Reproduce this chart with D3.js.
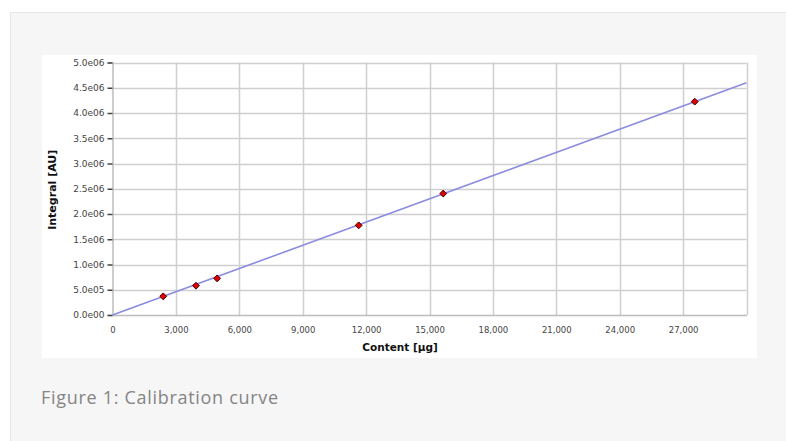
<!DOCTYPE html>
<html>
<head>
<meta charset="utf-8">
<script src="https://cdn.jsdelivr.net/npm/d3@7"></script>
<style>
  html, body { margin: 0; padding: 0; background: #fff; }
  svg { display: block; }
</style>
</head>
<body>
<div id="chart"></div>
<script>
(function() {
    const width = 786;
    const height = 441;

    // Calibration points
    const contentVals = [2400, 3950, 4950, 11650, 15650, 27550];
    const integralVals = [0.37e6, 0.58e6, 0.725e6, 1.775e6, 2.405e6, 4.225e6];
    // fitted line end points
    const fitX = [0, 30000];
    const fitY = [0, 4.6e6];

    const xTicks = [0, 3000, 6000, 9000, 12000, 15000, 18000, 21000, 24000, 27000];
    const yTicks = [0, 5e5, 1e6, 1.5e6, 2e6, 2.5e6, 3e6, 3.5e6, 4e6, 4.5e6, 5e6];
    const xGrid = [3000, 6000, 9000, 12000, 15000, 18000, 21000, 24000, 27000, 30000];

    const plot = { left: 112.5, right: 746.5, top: 62.5, bottom: 315 };

    const svg = d3.select("#chart").append("svg")
        .attr("width", width).attr("height", height);

    // outer grey panel
    svg.append("rect")
        .attr("x", 10.5).attr("y", 12.5)
        .attr("width", width).attr("height", height)
        .attr("fill", "#f6f6f6").attr("stroke", "#e6e6e6");

    // white chart box
    svg.append("rect")
        .attr("x", 42).attr("y", 55)
        .attr("width", 715).attr("height", 303)
        .attr("fill", "#fff");

    const x = d3.scaleLinear().domain([0, 30000]).range([plot.left, plot.right]);
    const y = d3.scaleLinear().domain([0, 5e6]).range([plot.bottom, plot.top]);

    const g = svg.append("g");

    // grid
    g.selectAll(".hgrid")
        .data(yTicks.slice(1))
        .join("line")
        .attr("x1", plot.left).attr("x2", plot.right)
        .attr("y1", d => Math.round(y(d)) + 0.5).attr("y2", d => Math.round(y(d)) + 0.5)
        .attr("stroke", "#cfcfcf").attr("stroke-width", 1.5);

    g.selectAll(".vgrid")
        .data(xGrid)
        .join("line")
        .attr("y1", plot.top).attr("y2", plot.bottom)
        .attr("x1", d => Math.round(x(d)) + 0.5).attr("x2", d => Math.round(x(d)) + 0.5)
        .attr("stroke", "#cfcfcf").attr("stroke-width", 1.5);

    // axes
    const yFmt = d => d3.format(".1e")(d).replace(/e[+-]?(\d+)$/, (m, p) => "e" + p.padStart(2, "0"));
    const yAxis = g.append("g")
        .attr("transform", `translate(${plot.left},0)`)
        .call(d3.axisLeft(y).tickValues(yTicks).tickSize(5).tickPadding(3).tickFormat(yFmt));
    yAxis.select(".domain").attr("stroke", "#bdbdbd").attr("stroke-width", 1.5);
    yAxis.selectAll(".tick line").attr("stroke", "#444").attr("stroke-width", 1.5);
    yAxis.selectAll(".tick text")
        .attr("font-family", "DejaVu Sans, Verdana, sans-serif")
        .attr("font-size", 9).attr("fill", "#444");

    const xAxis = g.append("g")
        .attr("transform", `translate(0,${plot.bottom})`)
        .call(d3.axisBottom(x).tickValues(xTicks).tickSize(0).tickPadding(12)
            .tickFormat(d3.format(",")));
    xAxis.select(".domain").attr("stroke", "#bdbdbd").attr("stroke-width", 1.5);
    xAxis.selectAll(".tick text")
        .attr("font-family", "DejaVu Sans, Verdana, sans-serif")
        .attr("font-size", 8.5).attr("fill", "#444");

    // fit line
    const line = d3.line().x(d => x(d[0])).y(d => y(d[1]));
    g.append("path")
        .datum(d3.zip(fitX, fitY))
        .attr("d", line)
        .attr("fill", "none").attr("stroke", "#8c8ce0").attr("stroke-width", 1.6);

    // points
    g.selectAll(".pt")
        .data(d3.zip(contentVals, integralVals))
        .join("path")
        .attr("d", d3.symbol(d3.symbolDiamond2, 30))
        .attr("transform", d => `translate(${x(d[0])},${y(d[1])})`)
        .attr("fill", "#e00000").attr("stroke", "#400").attr("stroke-width", 1);

    // axis titles
    svg.append("text")
        .attr("x", 400).attr("y", 351)
        .attr("text-anchor", "middle")
        .attr("font-family", "DejaVu Sans, Verdana, sans-serif")
        .attr("font-size", 10.5).attr("font-weight", "bold").attr("fill", "#111")
        .text("Content [µg]");

    svg.append("text")
        .attr("transform", `translate(56,${(plot.top + plot.bottom) / 2 + 1}) rotate(-90)`)
        .attr("text-anchor", "middle")
        .attr("font-family", "DejaVu Sans, Verdana, sans-serif")
        .attr("font-size", 11).attr("font-weight", "bold").attr("fill", "#111")
        .text("Integral [AU]");

    // caption
    svg.append("text")
        .attr("x", 41).attr("y", 404)
        .attr("font-family", "'Open Sans', Lato, sans-serif")
        .attr("font-size", 18).attr("letter-spacing", 0.7).attr("fill", "#858585")
        .text("Figure 1: Calibration curve");
})();
</script>
</body>
</html>
